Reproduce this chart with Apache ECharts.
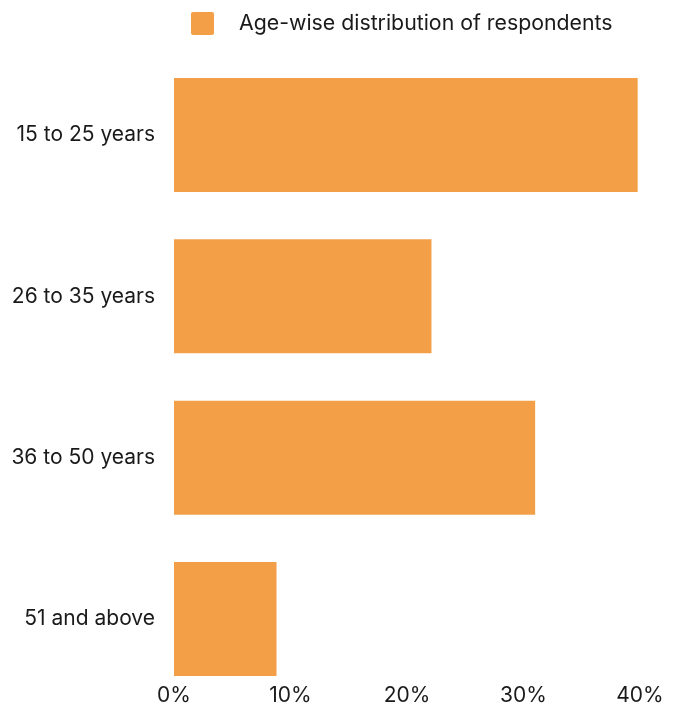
<!DOCTYPE html>
<html>
<head>
<meta charset="utf-8">
<script src="https://cdn.jsdelivr.net/npm/echarts@6/dist/echarts.min.js"></script>
<style>
  html, body { margin: 0; padding: 0; background: #ffffff; }
  #chart { width: 681px; height: 708px; }
</style>
</head>
<body>
<div id="chart"></div>
<script>
// Age groups, top to bottom
const categories = ['15 to 25 years', '26 to 35 years', '36 to 50 years', '51 and above'];
// Share of respondents (%)
const shares = [39.8, 22.1, 31.0, 8.8];
const seriesName = 'Age-wise distribution of respondents';
const xTicks = [0, 10, 20, 30, 40];

const FONT = 'Inter, "Noto Sans", sans-serif';
const TEXT = '#1a1a1a';
const BAR = '#F29F47';

const chart = echarts.init(document.getElementById('chart'), null, { renderer: 'canvas' });
chart.setOption({
  animation: false,
  backgroundColor: '#ffffff',
  textStyle: { fontFamily: FONT },
  legend: {
    left: 191,
    top: 12,
    padding: 0,
    itemWidth: 23,
    itemHeight: 23,
    itemGap: 10,
    icon: 'path://M2,0 H21 A2,2 0 0 1 23,2 V21 A2,2 0 0 1 21,23 H2 A2,2 0 0 1 0,21 V2 A2,2 0 0 1 2,0 Z',
    textStyle: { fontFamily: FONT, fontSize: 21.3, color: TEXT, padding: [0, 0, 0, 20] },
    data: [seriesName]
  },
  grid: { left: 174, right: 41, top: 54.3, bottom: 8.3, containLabel: false },
  xAxis: {
    type: 'value',
    min: xTicks[0],
    max: xTicks[xTicks.length - 1],
    interval: 10,
    axisLine: { show: false },
    axisTick: { show: false },
    splitLine: { show: false },
    axisLabel: {
      margin: -15,
      fontFamily: FONT,
      fontSize: 21,
      color: TEXT,
      formatter: v => v + '%'
    }
  },
  yAxis: {
    type: 'category',
    inverse: true,
    data: categories,
    axisLine: { show: false },
    axisTick: { show: false },
    splitLine: { show: false },
    axisLabel: { margin: 19, fontFamily: FONT, fontSize: 21, color: TEXT }
  },
  series: [{
    name: seriesName,
    type: 'bar',
    data: shares,
    barWidth: 114,
    itemStyle: { color: BAR }
  }]
});
</script>
</body>
</html>
